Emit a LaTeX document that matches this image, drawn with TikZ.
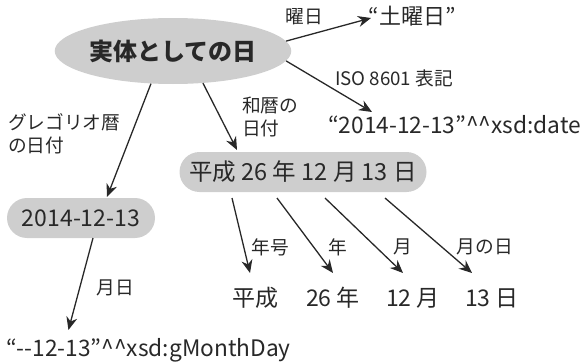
\documentclass[tikz,border=0pt]{standalone}
\usepackage{fontspec}
\setmainfont{Noto Sans CJK JP}
\usetikzlibrary{shapes.geometric,arrows.meta}
\definecolor{boxgray}{RGB}{206,206,206}
\definecolor{ink}{RGB}{40,40,40}
\begin{document}
\begin{tikzpicture}[x=1pt,y=-1pt,
  every node/.style={text=ink, inner sep=0pt},
  arr/.style={draw=ink, line width=1.3pt, -{Stealth[length=13pt,width=11pt]}},
  lbl/.style={font=\fontsize{18.7}{22.5}\selectfont, align=left},
  big/.style={font=\fontsize{23}{26}\selectfont},
  lat/.style={font=\fontsize{22.7}{26}\selectfont},
  pill/.style={fill=boxgray, rounded corners=20pt, minimum height=40pt},
]
\useasboundingbox (0,0) rectangle (587,364);

\node[ellipse, fill=boxgray, minimum width=207pt, minimum height=66pt,
      font=\fontsize{24}{26}\selectfont\bfseries] (ent) at (173,51) {実体としての日};

\node[font=\fontsize{22}{26}\selectfont] (dow) at (412,16) {“土曜日”};
\node[lbl] (l1) at (304,17) {曜日};
\draw[arr] (ent.5) -- ([xshift=-41pt,yshift=-2pt]dow.center);

\node[anchor=west, lat] (date) at (328,125) {“2014-12-13”\textasciicircum\textasciicircum xsd:date};
\node[lbl] (l2) at (394,78) {ISO 8601 表記};
\draw[arr] (ent.-5) -- ([xshift=44pt,yshift=13pt]date.west);

\node[lbl, anchor=west] (l3) at (8,134) {グレゴリオ暦\\の日付};
\node[pill, minimum width=148pt, big] (greg) at (81,218) {2014-12-13};
\draw[arr] (ent.-124) -- ([xshift=26pt,yshift=21pt]greg.center);

\node[lbl, anchor=west] (l4) at (242,117) {和暦の\\日付};
\node[pill, minimum width=247pt, big, font=\fontsize{23.5}{26}\selectfont] (hk) at (303,172) {平成 26 年 12 月 13 日};
\draw[arr] (ent.-47) -- ([xshift=-66pt,yshift=22pt]hk.center);

\node[big] (b1) at (255,298) {平成};
\node[big] (b2) at (333,298) {26 年};
\node[big] (b3) at (413,298) {12 月};
\node[big] (b4) at (492,298) {13 日};

\draw[arr] ([xshift=-71pt,yshift=-26pt]hk.center) -- ([xshift=-5pt,yshift=25pt]b1.center);
\draw[arr] ([xshift=-26pt,yshift=-26pt]hk.center) -- ([xshift=0pt,yshift=25pt]b2.center);
\draw[arr] ([xshift=22pt,yshift=-26pt]hk.center) -- ([xshift=-10pt,yshift=25pt]b3.center);
\draw[arr] ([xshift=82pt,yshift=-26pt]hk.center) -- ([xshift=-20pt,yshift=25pt]b4.center);

\node[lbl] (l5) at (270,247) {年号};
\node[lbl] (l6) at (338,247) {年};
\node[lbl] (l7) at (403,247) {月};
\node[lbl] (l8) at (485,247) {月の日};

\node[anchor=west, lat] (gmd) at (6,350) {“-{}-12-13”\textasciicircum\textasciicircum xsd:gMonthDay};
\node[lbl] (l9) at (115,288) {月日};
\draw[arr] ([xshift=12pt,yshift=-20pt]greg.center) -- ([xshift=-80pt,yshift=20pt]gmd.center);
\end{tikzpicture}
\end{document}
